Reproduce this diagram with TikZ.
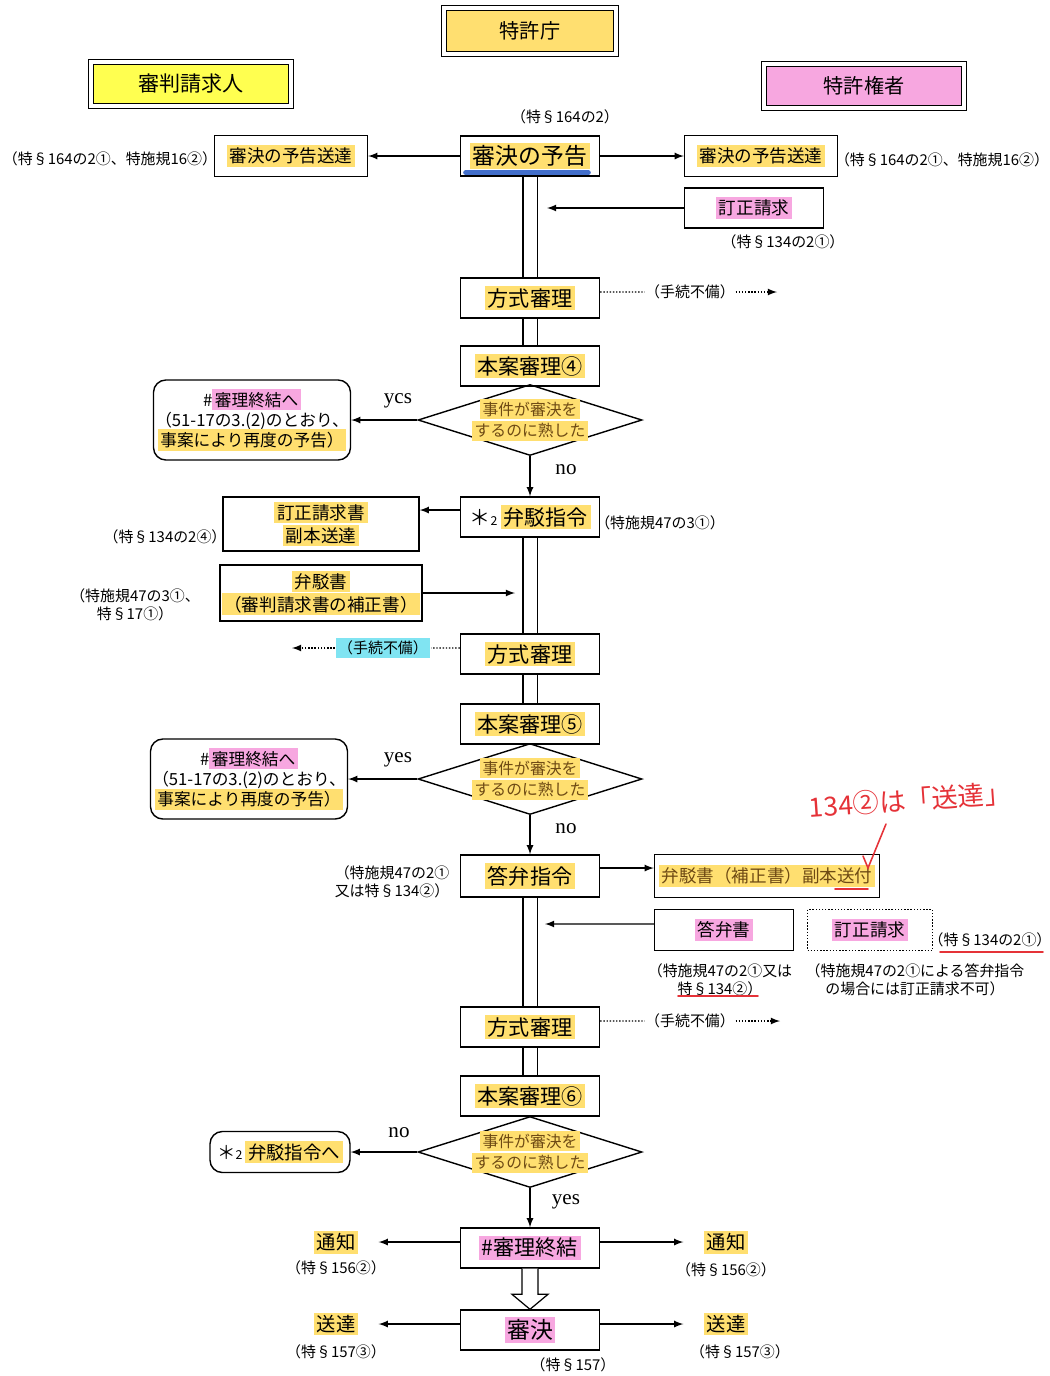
\documentclass[tikz,border=0pt]{standalone}
\usepackage{fontspec}
\setmainfont{Noto Sans CJK JP}
\newfontfamily\yesfont{Liberation Serif}
\usepackage{tikz}
\usetikzlibrary{arrows,shapes,calc}
\usepackage{xcolor}
\definecolor{hly}{HTML}{FFDF70}
\definecolor{hlp}{HTML}{F7A7E0}
\definecolor{hlc}{HTML}{80E4F2}
\definecolor{hlb}{HTML}{FFFF50}
\definecolor{pen}{HTML}{E53238}
\definecolor{ink}{HTML}{6E4A14}
\definecolor{marker}{HTML}{2E5EC4}
\setlength{\fboxsep}{1.5pt}
\newcommand{\hy}[1]{\colorbox{hly}{#1}}
\newcommand{\hp}[1]{\colorbox{hlp}{#1}}
\newcommand{\hc}[1]{\colorbox{hlc}{#1}}
\begin{document}
\begin{tikzpicture}[x=0.02cm, y=-0.02cm, >=latex, line width=0.8pt,
  main node/.style={draw, minimum width=2.78cm, minimum height=0.8cm, inner sep=1pt, font=\fontsize{12}{14}\selectfont},
  side node/.style={draw, minimum height=0.82cm, inner sep=1pt, align=center, font=\fontsize{10}{13}\selectfont},
  head node/.style={draw, double, double distance=1.8pt, line width=0.7pt, minimum width=4cm, minimum height=0.88cm, font=\fontsize{12}{14}\selectfont},
  ask node/.style={draw, diamond, inner sep=0pt, minimum width=4.48cm, minimum height=1.42cm},
  ask text/.style={align=center, inner sep=0pt, text=ink, font=\fontsize{9}{10.5}\selectfont},
  back node/.style={draw, rounded corners=7pt, align=center, inner sep=1pt, font=\fontsize{9.5}{11.5}\selectfont},
  cite node/.style={inner sep=0pt, align=center, font=\fontsize{8.5}{10.5}\selectfont},
  word node/.style={inner sep=0pt, font=\yesfont\fontsize{12}{12}\selectfont},
  note node/.style={inner sep=0pt, font=\fontsize{11}{13}\selectfont},
  pen text/.style={inner sep=0pt, text=pen, rotate=4, font=\fontsize{15}{15}\selectfont},
  dbl/.style={draw, double, double distance=0.26cm, line width=0.7pt, shorten <=0.4pt, shorten >=0.4pt},
  mark line/.style={pen, line width=0.9pt, line cap=round}]
\useasboundingbox (0,0) rectangle (1049,1376);
\node[head node, minimum width=3.44cm, minimum height=0.92cm, fill=hly, font=\fontsize{11.5}{14}\selectfont] (1) at (530,31) {特許庁};
\node[head node, fill=hlb] (2) at (191,84) {審判請求人};
\node[head node, fill=hlp, font=\fontsize{11.5}{14}\selectfont] (3) at (864,86) {特許権者};
\node[main node, font=\fontsize{13}{15}\selectfont] (4) at (530,156) {\hy{審決の予告}};
\node[side node, minimum width=3.06cm] (5) at (291,156) {\hy{審決の予告送達}};
\node[side node, minimum width=3.06cm] (6) at (761,156) {\hy{審決の予告送達}};
\node[cite node] (7) at (565,117) {（特§164の2）};
\node[cite node] (8) at (110,159) {（特§164の2①、特施規16②）};
\node[cite node] (9) at (942,160) {（特§164の2①、特施規16②）};
\node[side node, minimum width=2.78cm, minimum height=0.8cm] (10) at (754,208) {\hp{訂正請求}};
\coordinate (e0) at (547,208);
\node[cite node] (11) at (783,242) {（特§134の2①）};
\node[main node] (12) at (530,298) {\hy{方式審理}};
\node[cite node] (13) at (690,292) {（手続不備）};
\coordinate (e1) at (777,292);
\node[main node] (14) at (530,366) {\hy{本案審理④}};
\node[ask node, label={[ask text]center:{\hy{事件が審決を}\\\hy{するのに熟した}}}] (15) at (530,420) {};
\node[back node, minimum width=3.8cm, minimum height=1.6cm] (16) at (252,420) {\#\hp{審理終結へ}\\（51-17の3.(2)のとおり、\\\hy{事案により再度の予告）}};
\node[word node] (17) at (398,401) {ycs};
\node[word node] (18) at (566,470) {no};
\node[main node] (19) at (530,517) {＊{\fontsize{7}{7}\selectfont 2}\,\hy{弁駁指令}};
\node[cite node] (20) at (660,523) {（特施規47の3①）};
\node[side node, minimum width=3.92cm, minimum height=1.08cm] (21) at (321,524) {\hy{訂正請求書}\\\hy{副本送達}};
\node[cite node] (22) at (165,537) {（特§134の2④）};
\node[side node, minimum width=3.92cm, minimum height=1.12cm] (23) at (321,593) {\hy{弁駁書}\\\hy{（審判請求書の補正書）}};
\node[cite node] (24) at (135,605) {（特施規47の3①、\\特§17①）};
\coordinate (e2) at (515,593);
\node[main node] (25) at (530,654) {\hy{方式審理}};
\node[cite node] (26) at (383,648) {\hc{（手続不備）}};
\coordinate (e3) at (292,648);
\node[main node] (27) at (530,724) {\hy{本案審理⑤}};
\node[ask node, label={[ask text]center:{\hy{事件が審決を}\\\hy{するのに熟した}}}] (28) at (530,779) {};
\node[back node, minimum width=3.84cm, minimum height=1.6cm] (29) at (249,779) {\#\hp{審理終結へ}\\（51-17の3.(2)のとおり、\\\hy{事案により再度の予告）}};
\node[word node] (30) at (398,760) {yes};
\node[word node] (31) at (566,829) {no};
\node[main node, minimum height=0.84cm] (32) at (530,876) {\hy{答弁指令}};
\node[cite node, align=left] (33) at (392,882) {（特施規47の2①\\又は特§134②）};
\node[side node, minimum width=4.5cm, minimum height=0.86cm, text=ink] (34) at (767,876) {\hy{弁駁書（補正書）副本送付}};
\node[side node, minimum width=2.78cm] (35) at (724,930) {\hp{答弁書}};
\node[side node, densely dotted, minimum width=2.5cm] (36) at (870,930) {\hp{訂正請求}};
\node[cite node] (37) at (990,940) {（特§134の2①）};
\node[cite node] (38) at (720,980) {（特施規47の2①又は\\特§134②）};
\node[cite node] (39) at (915,980) {（特施規47の2①による答弁指令\\の場合には訂正請求不可）};
\coordinate (e4) at (545,924);
\node[main node] (40) at (530,1027) {\hy{方式審理}};
\node[cite node] (41) at (690,1021) {（手続不備）};
\coordinate (e5) at (780,1021);
\node[main node] (42) at (530,1096) {\hy{本案審理⑥}};
\node[ask node, label={[ask text]center:{\hy{事件が審決を}\\\hy{するのに熟した}}}] (43) at (530,1152) {};
\node[back node, minimum width=2.8cm, minimum height=0.82cm, font=\fontsize{10.5}{12}\selectfont] (44) at (280,1152) {＊{\fontsize{7}{7}\selectfont 2}\,\hy{弁駁指令へ}};
\node[word node] (45) at (399,1133) {no};
\node[word node] (46) at (566,1202) {yes};
\node[main node] (47) at (530,1248) {\hp{\#審理終結}};
\node[note node] (48) at (336,1242) {\hy{通知}};
\node[cite node] (49) at (336,1268) {（特§156②）};
\node[note node] (50) at (726,1242) {\hy{通知}};
\node[cite node] (51) at (726,1270) {（特§156②）};
\node[main node, font=\fontsize{13}{15}\selectfont] (52) at (530,1330) {\hp{審決}};
\node[note node] (53) at (336,1324) {\hy{送達}};
\node[cite node] (54) at (336,1352) {（特§157③）};
\node[note node] (55) at (726,1324) {\hy{送達}};
\node[cite node] (56) at (740,1352) {（特§157③）};
\node[cite node] (57) at (573,1365) {（特§157）};
\node[pen text] (58) at (910,800) {134②は「送達」};
\draw[dbl] (4) -- (12);
\draw[dbl] (12) -- (14);
\draw[dbl] (19) -- (25);
\draw[dbl] (25) -- (27);
\draw[dbl] (32) -- (40);
\draw[dbl] (40) -- (42);
\draw[marker, line width=3pt, line cap=round, opacity=0.9] ($(4.south west)+(6,-4)$) -- ($(4.south east)+(-12,-4)$);
\path[->]
(4) edge (5)
(4) edge (6)
(10) edge (e0)
(15) edge (16)
(15) edge (19)
(23) edge (e2)
(28) edge (29)
(28) edge (32)
(43) edge (44)
(43) edge (47);
\draw[densely dotted] ([yshift=0.12cm]12.east) -- (13);
\draw[densely dotted, ->] (13) -- (e1);
\draw[densely dotted] ([yshift=0.12cm]25.west) -- (26);
\draw[densely dotted, ->] (26) -- (e3);
\draw[densely dotted] ([yshift=0.12cm]40.east) -- (41);
\draw[densely dotted, ->] (41) -- (e5);
\draw[->] ([yshift=0.14cm]19.west) -- ([yshift=0.14cm]19.west -| 21.east);
\draw[->] ([yshift=0.16cm]32.east) -- ([yshift=0.16cm]32.east -| 34.west);
\draw[->] ([yshift=0.12cm]35.west) -- (e4);
\draw[->] ([yshift=0.12cm]47.west) -- ([yshift=0.12cm, xshift=0.4cm]47.west -| 48.east);
\draw[->] ([yshift=0.12cm]47.east) -- ([yshift=0.12cm, xshift=-0.4cm]47.east -| 50.west);
\draw[->] ([yshift=0.12cm]52.west) -- ([yshift=0.12cm, xshift=0.4cm]52.west -| 53.east);
\draw[->] ([yshift=0.12cm]52.east) -- ([yshift=0.12cm, xshift=-0.4cm]52.east -| 55.west);
\draw[fill=white, line width=0.7pt] ($(47.south)+(-8,0)$) -- ($(52.north)+(-8,-15)$) -- ($(52.north)+(-18,-15)$) -- (52.north) -- ($(52.north)+(18,-15)$) -- ($(52.north)+(8,-15)$) -- ($(47.south)+(8,0)$);
\draw[mark line] ($(34)+(68,13)$) -- ($(34)+(101,13)$);
\draw[mark line] ($(37)+(-50,12)$) -- ($(37)+(53,12)$);
\draw[mark line] ($(38)+(-42,16)$) -- ($(38)+(38,16)$);
\draw[mark line] (863,856) -- (868,868) -- (886,824);
\end{tikzpicture}
\end{document}
